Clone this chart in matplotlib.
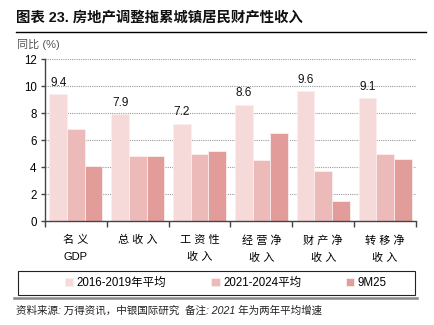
import matplotlib
matplotlib.use("Agg")
import matplotlib.pyplot as plt
from matplotlib.patches import Rectangle
from matplotlib.lines import Line2D
import numpy as np

plt.rcParams['font.family'] = ['Liberation Sans', 'Noto Sans CJK SC', 'DejaVu Sans']

# categories and the three growth series (%)
categories = ['名 义\nGDP', '总 收 入', '工 资 性\n收 入', '经 营 净\n收 入', '财 产 净\n收 入', '转 移 净\n收 入']
avg_2016_2019 = [9.4, 7.9, 7.2, 8.6, 9.6, 9.1]
avg_2021_2024 = [6.85, 4.8, 5.0, 4.5, 3.7, 5.0]
ytd_9m25 = [4.1, 4.85, 5.15, 6.55, 1.5, 4.6]
series_names = ['2016-2019年平均', '2021-2024平均', '9M25']
colors = ['#F6D9D9', '#EDBABA', '#E29C9A']

fig = plt.figure(figsize=(4.35, 3.25), dpi=100)
ax = fig.add_axes([45 / 435, 1 - 221 / 325, 371 / 435, 162 / 325])

x = np.arange(len(categories))
w = 0.285
bars = []
for i, (vals, c) in enumerate(zip([avg_2016_2019, avg_2021_2024, ytd_9m25], colors)):
    b = ax.bar(x + (i - 1) * w, vals, width=w, color=c, edgecolor='#FBEEEE',
               linewidth=0.6, zorder=2, label=series_names[i])
    bars.append(b)

# value labels on the first series only
for xi, v in zip(x, avg_2016_2019):
    ax.annotate(f'{v:.1f}', (xi - w, v), xytext=(0, 4), textcoords='offset points',
                ha='center', va='bottom', fontsize=8.5, color='#111111')

ax.set_ylim(0, 12)
ax.set_xlim(-0.5, len(categories) - 0.5)
ax.set_yticks(range(0, 13, 2))
ax.yaxis.grid(True, linestyle=(0, (1, 1)), color='#999999', linewidth=0.8, zorder=0)
ax.set_axisbelow(True)

ax.set_xticks(x)
ax.set_xticklabels(categories, fontsize=8, linespacing=1.9, va='top')
ax.set_xticks(np.arange(-0.5, len(categories)), minor=True)
ax.tick_params(axis='x', which='major', length=0, pad=10)
ax.tick_params(axis='x', which='minor', length=4, width=1, color='#444444', direction='out')
ax.tick_params(axis='y', length=3, width=1, color='#444444', labelsize=8.3, pad=3)

for s in ['top', 'right']:
    ax.spines[s].set_visible(False)
for s in ['left', 'bottom']:
    ax.spines[s].set_color('#444444')
    ax.spines[s].set_linewidth(1)

# header
fig.text(16 / 435, 1 - 17 / 325, '图表 23. 房地产调整拖累城镇居民财产性收入', fontsize=10.4,
         fontweight='bold', ha='left', va='center', color='#111111')
fig.add_artist(Line2D([16 / 435, 426 / 435], [1 - 31.5 / 325] * 2, color='black', linewidth=1))
fig.text(17 / 435, 1 - 44 / 325, '同比 (%)', fontsize=8, ha='left', va='center', color='#555555')

# legend with a wide frame
fig.add_artist(Rectangle((18 / 435, 1 - 295 / 325), 397 / 435, 24 / 325, fill=False,
                         edgecolor='#222222', linewidth=0.8, transform=fig.transFigure))
fig.legend(handles=[b[0] for b in bars], labels=series_names, loc='center',
           bbox_to_anchor=(226 / 435, 1 - 283 / 325), ncol=3, frameon=False, fontsize=8.3,
           handlelength=0.7, handleheight=0.7, handletextpad=0.3, columnspacing=3.9)

fig.add_artist(Line2D([14 / 435, 417 / 435], [1 - 298 / 325] * 2, color='#888888', linewidth=1.8))
fig.text(16 / 435, 1 - 311 / 325, '资料来源: 万得资讯，中银国际研究  备注: 2021 年为两年平均增速',
         fontsize=7.6, style='italic', ha='left', va='center', color='#222222')

fig.savefig('out.png', dpi=100)
